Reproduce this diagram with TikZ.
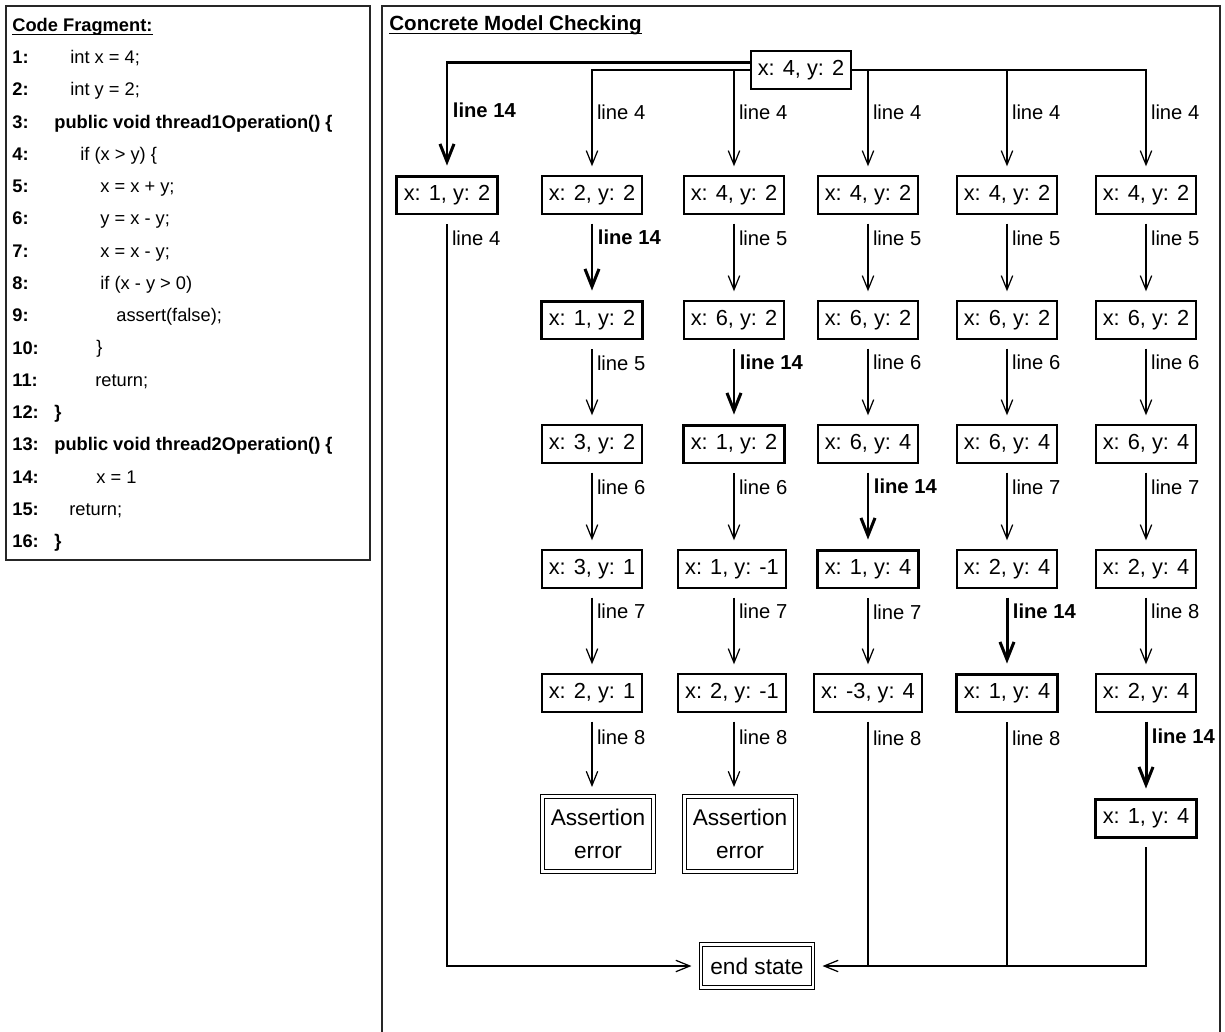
\documentclass[tikz,border=0pt]{standalone}
\usepackage{fontspec}
\setmainfont{Liberation Sans}
\usetikzlibrary{arrows.meta}

\begin{document}
\begin{tikzpicture}[
			x=0.02cm, y=-0.02cm,
			state/.style={
				draw,
				line width=0.8pt,
				minimum width=2cm,
				minimum height=0.76cm,
				inner xsep=0.14cm,
				font=\fontsize{12.4}{15}\selectfont
			},
			hit/.style={state, line width=1.7pt},
			final/.style={state, line width=0.6pt, double, double distance=1.5pt},
			arr/.style={-{Straight Barb[length=8pt,width=6.5pt]}, line width=0.7pt, shorten >=0.18cm},
			racearr/.style={arr, -{Straight Barb[length=10pt,width=8pt]}, line width=1.7pt},
			gap/.style={shorten <=0.18cm},
			lbl/.style={anchor=west, inner sep=2.5pt, font=\fontsize{11.5}{13}\selectfont},
			lblb/.style={lbl, font=\fontsize{11.5}{13}\selectfont\bfseries},
			code/.style={anchor=west, inner sep=0pt, text height=1.6ex, text depth=0.4ex, font=\fontsize{10.4}{12}\selectfont},
			codeb/.style={code, font=\fontsize{10.4}{12}\selectfont\bfseries}
			]
			\useasboundingbox (0,0) rectangle (1225,1032);

			% Panels
			\draw[line width=0.8pt, black!85] (6,6) rectangle (370,560);
			\draw[line width=0.8pt, black!85] (382,1040) |- (1220,6) -- (1220,1040);

			% Code fragment
			\node[codeb] (title1) at (12,26) {Code Fragment:};
			\draw[line width=0.6pt] ([yshift=-1.6pt]title1.base west) -- ([yshift=-1.6pt]title1.base east);
			\foreach \n in {1,...,16}
				\node[codeb] (n\n) at (12,{58+(\n-1)*32.27}) {\n:};
			\node[code] (c1) at (70,58) {int x = 4;};
			\node[code] (c2) at (70,90.3) {int y = 2;};
			\node[codeb] (c3) at (54,122.5) {public void thread1Operation() \{};
			\node[code] (c4) at (80,154.8) {if (x > y) \{};
			\node[code] (c5) at (100,187.1) {x = x + y;};
			\node[code] (c6) at (100,219.4) {y = x - y;};
			\node[code] (c7) at (100,251.6) {x = x - y;};
			\node[code] (c8) at (100,283.9) {if (x - y > 0)};
			\node[code] (c9) at (116,316.2) {assert(false);};
			\node[code] (c10) at (96,348.4) {\}};
			\node[code] (c11) at (95,380.7) {return;};
			\node[codeb] (c12) at (54,413) {\}};
			\node[codeb] (c13) at (54,445.2) {public void thread2Operation() \{};
			\node[code] (c14) at (96,477.5) {x = 1};
			\node[code] (c15) at (69,509.8) {return;};
			\node[codeb] (c16) at (54,542) {\}};

			% Model checking title
			\node[anchor=west, inner sep=0pt, font=\fontsize{11.7}{14}\selectfont\bfseries] (title2) at (389,25) {Concrete Model Checking};
			\draw[line width=0.6pt] ([yshift=-1.8pt]title2.base west) -- ([yshift=-1.8pt]title2.base east);

			% Initial state
			\node[state] (root) at (801,70) {x: 4, y: 2};

			% Column 0
			\node[hit] (s01) at (447,195) {x: 1, y: 2};

			% Column 1
			\node[state] (s11) at (592,195) {x: 2, y: 2};
			\node[hit] (s12) at (592,320) {x: 1, y: 2};
			\node[state] (s13) at (592,444) {x: 3, y: 2};
			\node[state] (s14) at (592,569) {x: 3, y: 1};
			\node[state] (s15) at (592,693) {x: 2, y: 1};
			\node[final, align=center, minimum width=2.22cm, minimum height=1.5cm, font=\fontsize{12.9}{18.5}\selectfont] (err1) at (598,834) {Assertion\\error};

			% Column 2
			\node[state] (s21) at (734,195) {x: 4, y: 2};
			\node[state] (s22) at (734,320) {x: 6, y: 2};
			\node[hit] (s23) at (734,444) {x: 1, y: 2};
			\node[state] (s24) at (732,569) {x: 1, y: -1};
			\node[state] (s25) at (732,693) {x: 2, y: -1};
			\node[final, align=center, minimum width=2.22cm, minimum height=1.5cm, font=\fontsize{12.9}{18.5}\selectfont] (err2) at (740,834) {Assertion\\error};

			% Column 3
			\node[state] (s31) at (868,195) {x: 4, y: 2};
			\node[state] (s32) at (868,320) {x: 6, y: 2};
			\node[state] (s33) at (868,444) {x: 6, y: 4};
			\node[hit] (s34) at (868,569) {x: 1, y: 4};
			\node[state] (s35) at (868,693) {x: -3, y: 4};

			% Column 4
			\node[state] (s41) at (1007,195) {x: 4, y: 2};
			\node[state] (s42) at (1007,320) {x: 6, y: 2};
			\node[state] (s43) at (1007,444) {x: 6, y: 4};
			\node[state] (s44) at (1007,569) {x: 2, y: 4};
			\node[hit] (s45) at (1007,693) {x: 1, y: 4};

			% Column 5
			\node[state] (s51) at (1146,195) {x: 4, y: 2};
			\node[state] (s52) at (1146,320) {x: 6, y: 2};
			\node[state] (s53) at (1146,444) {x: 6, y: 4};
			\node[state] (s54) at (1146,569) {x: 2, y: 4};
			\node[state] (s55) at (1146,693) {x: 2, y: 4};
			\node[hit] (s56) at (1146,818) {x: 1, y: 4};

			% End state
			\node[final, font=\fontsize{12.9}{15}\selectfont, minimum width=2.24cm, minimum height=0.86cm] (end) at (757,966) {end state};

			% Edges from the initial state
			\draw[racearr] ([yshift=0.16cm]root.west) -| node[lblb, pos=0.715] {line 14} (s01);
			\draw[arr] (root.west) -| node[lbl, pos=0.7] {line 4} (s11);
			\draw[arr] (s21 |- root.west) -- node[lbl, pos=0.4] {line 4} (s21);
			\draw[arr] (root.east) -| node[lbl, pos=0.7] {line 4} (s51);
			\draw[arr] (s31 |- root.east) -- node[lbl, pos=0.4] {line 4} (s31);
			\draw[arr] (s41 |- root.east) -- node[lbl, pos=0.4] {line 4} (s41);

			% Column 1 edges
			\draw[racearr, gap] (s11) -- node[lblb, pos=0.27] {line 14} (s12);
			\draw[arr, gap] (s12) -- node[lbl, pos=0.27] {line 5} (s13);
			\draw[arr, gap] (s13) -- node[lbl, pos=0.27] {line 6} (s14);
			\draw[arr, gap] (s14) -- node[lbl, pos=0.27] {line 7} (s15);
			\draw[arr, gap] (s15) -- node[lbl, pos=0.3] {line 8} (s15 |- err1.north);

			% Column 2 edges
			\draw[arr, gap] (s21) -- node[lbl, pos=0.27] {line 5} (s22);
			\draw[racearr, gap] (s22) -- node[lblb, pos=0.27] {line 14} (s23);
			\draw[arr, gap] (s23) -- node[lbl, pos=0.27] {line 6} (s23 |- s24.north);
			\draw[arr, gap] (s23 |- s24.south) -- node[lbl, pos=0.27] {line 7} (s23 |- s25.north);
			\draw[arr, gap] (s23 |- s25.south) -- node[lbl, pos=0.3] {line 8} (s23 |- err2.north);

			% Column 3 edges
			\draw[arr, gap] (s31) -- node[lbl, pos=0.27] {line 5} (s32);
			\draw[arr, gap] (s32) -- node[lbl, pos=0.27] {line 6} (s33);
			\draw[racearr, gap] (s33) -- node[lblb, pos=0.27] {line 14} (s34);
			\draw[arr, gap] (s34) -- node[lbl, pos=0.27] {line 7} (s35);

			% Column 4 edges
			\draw[arr, gap] (s41) -- node[lbl, pos=0.27] {line 5} (s42);
			\draw[arr, gap] (s42) -- node[lbl, pos=0.27] {line 6} (s43);
			\draw[arr, gap] (s43) -- node[lbl, pos=0.27] {line 7} (s44);
			\draw[racearr, gap] (s44) -- node[lblb, pos=0.27] {line 14} (s45);

			% Column 5 edges
			\draw[arr, gap] (s51) -- node[lbl, pos=0.27] {line 5} (s52);
			\draw[arr, gap] (s52) -- node[lbl, pos=0.27] {line 6} (s53);
			\draw[arr, gap] (s53) -- node[lbl, pos=0.27] {line 7} (s54);
			\draw[arr, gap] (s54) -- node[lbl, pos=0.27] {line 8} (s55);
			\draw[racearr, gap] (s55) -- node[lblb, pos=0.28] {line 14} (s56);

			% Paths to the end state
			\draw[arr, gap] (s01) |- node[lbl, pos=0.015] {line 4} (end);
			\draw[line width=0.7pt, gap] (s35) -- node[lbl, pos=0.1] {line 8} (s35 |- end);
			\draw[line width=0.7pt, gap] (s45) -- node[lbl, pos=0.1] {line 8} (s45 |- end);
			\draw[arr, gap] (s56) |- (end);

		\end{tikzpicture}
\end{document}
